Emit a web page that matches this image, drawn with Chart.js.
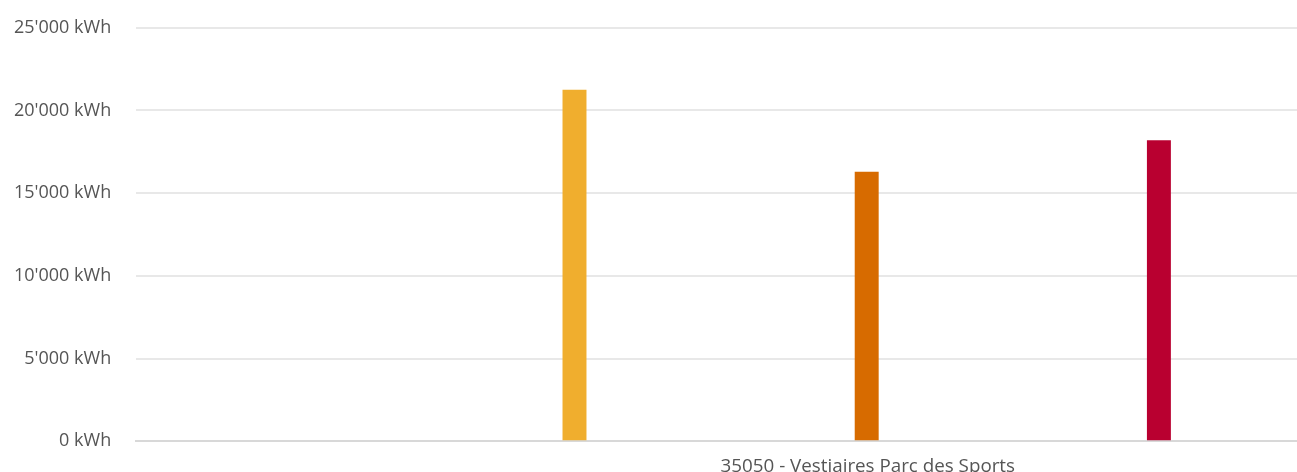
<!DOCTYPE html>
<html>
<head>
<meta charset="utf-8">
<script src="https://cdn.jsdelivr.net/npm/chart.js@4"></script>
<style>
  html, body { margin: 0; padding: 0; background: #fff; overflow: hidden; height: 472px; }
  #wrap { width: 1305px; height: 485px; margin-top: -8px; }
</style>
</head>
<body>
<div id="wrap"><canvas id="consoChart"></canvas></div>
<script>
// Données
const categories = ['35050 - Vestiaires Parc des Sports'];
const seriesNames = ['Période 1', 'Période 2', 'Période 3', 'Période 4'];
const seriesValues = [null, 21250, 16300, 18200];
const seriesColors = ['#9a9a9a', '#F0AE2E', '#D76B00', '#B90030'];
const yTicks = [0, 5000, 10000, 15000, 20000, 25000];

function formatKwh(v) {
    return String(v).replace(/\B(?=(\d{3})+(?!\d))/g, "'") + ' kWh';
}

const ctx = document.getElementById('consoChart').getContext('2d');
new Chart(ctx, {
    type: 'bar',
    data: {
        labels: categories,
        datasets: seriesNames.map((name, i) => ({
            label: name,
            data: [seriesValues[i]],
            backgroundColor: seriesColors[i],
            borderWidth: 0
        }))
    },
    options: {
        responsive: true,
        maintainAspectRatio: false,
        animation: false,
        layout: { padding: { top: 4, left: -11, right: 0, bottom: -19 } },
        datasets: {
            bar: { categoryPercentage: 1.0, barPercentage: 0.082 }
        },
        plugins: {
            legend: { display: false },
            tooltip: { enabled: false }
        },
        scales: {
            x: {
                grid: { display: false, drawTicks: false },
                border: { color: '#d8d8d8', width: 2 },
                ticks: {
                    align: 'start',
                    padding: 16,
                    color: '#555',
                    font: { family: 'Open Sans', size: 18.8, lineHeight: 1.0 }
                }
            },
            y: {
                min: 0,
                max: yTicks[yTicks.length - 1],
                afterBuildTicks: axis => { axis.ticks = yTicks.map(v => ({ value: v })); },
                grid: { color: '#e8e8e8', lineWidth: 2, drawTicks: false },
                border: { display: false },
                ticks: {
                    padding: 25,
                    color: '#555',
                    font: { family: 'Open Sans', size: 18 },
                    callback: v => formatKwh(v)
                }
            }
        }
    }
});
</script>
</body>
</html>
